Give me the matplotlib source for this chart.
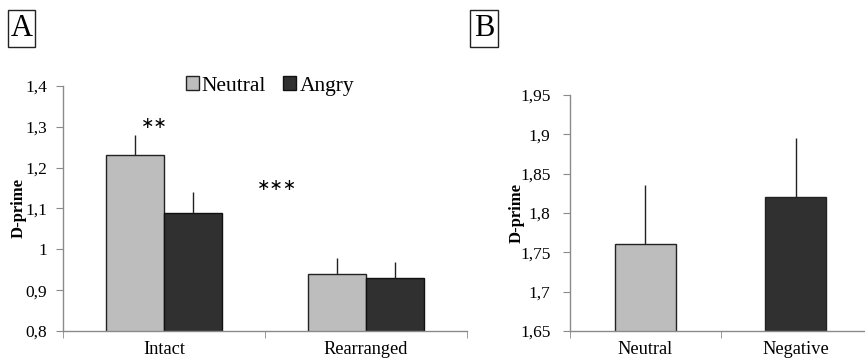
import matplotlib
matplotlib.use("Agg")
import matplotlib.pyplot as plt
import numpy as np
from matplotlib.patches import Patch, Rectangle

plt.rcParams['font.family'] = ['Liberation Serif', 'DejaVu Serif']

# Panel A data
a_categories = ["Intact", "Rearranged"]
a_neutral = [1.23, 0.94]
a_neutral_err = [0.05, 0.04]
a_angry = [1.09, 0.93]
a_angry_err = [0.05, 0.04]
a_yticks = [0.8, 0.9, 1.0, 1.1, 1.2, 1.3, 1.4]
a_yticklabels = ["0,8", "0,9", "1", "1,1", "1,2", "1,3", "1,4"]

# Panel B data
b_categories = ["Neutral", "Negative"]
b_values = [1.76, 1.82]
b_err = [0.075, 0.075]
b_yticks = [1.65, 1.70, 1.75, 1.80, 1.85, 1.90, 1.95]
b_yticklabels = ["1,65", "1,7", "1,75", "1,8", "1,85", "1,9", "1,95"]

light = "#bdbdbd"
dark = "#303030"
spine_c = "#8a8a8a"

W, H = 865, 362
fig = plt.figure(figsize=(W / 100, H / 100), dpi=100)

def style(ax, ypad):
    for s in ["top", "right"]:
        ax.spines[s].set_visible(False)
    for s in ["left", "bottom"]:
        ax.spines[s].set_color(spine_c)
        ax.spines[s].set_linewidth(1.0)
    ax.tick_params(axis="y", direction="out", length=5, color=spine_c, labelsize=12.5, pad=ypad)
    ax.tick_params(axis="x", which="major", length=0, labelsize=13.2, pad=7)
    ax.tick_params(axis="x", which="minor", direction="out", length=5, color=spine_c)

# Panel A
axA = fig.add_axes([63 / W, 1 - 331 / H, (467 - 63) / W, (331 - 86) / H])
x = np.arange(len(a_categories))
bw = 0.287
axA.bar(x - bw / 2, a_neutral, bw, color=light, edgecolor="#222222", linewidth=1.0,
        yerr=[np.zeros(2), a_neutral_err], error_kw=dict(ecolor="#222222", elinewidth=1.0, capsize=0))
axA.bar(x + bw / 2, a_angry, bw, color=dark, edgecolor="#111111", linewidth=1.0,
        yerr=[np.zeros(2), a_angry_err], error_kw=dict(ecolor="#222222", elinewidth=1.0, capsize=0))
axA.set_xlim(-0.5, 1.5)
axA.set_ylim(0.8, 1.4)
axA.set_yticks(a_yticks)
axA.set_yticklabels(a_yticklabels)
axA.set_xticks(x)
axA.set_xticklabels(a_categories)
axA.set_xticks([-0.5, 0.5, 1.5], minor=True)
axA.set_ylabel("D-prime", fontsize=12, fontweight="bold")
axA.yaxis.set_label_coords((27 - 63) / 404, 0.5)
style(axA, 6.5)
axA.text(-0.05, 1.307, "∗∗", ha="center", va="center", fontsize=11.5, family=["DejaVu Sans"])
axA.text(0.56, 1.157, "∗∗∗", ha="center", va="center", fontsize=11.5, family=["DejaVu Sans"])
leg = axA.legend(handles=[Patch(facecolor=light, edgecolor="#222222", label="Neutral"),
                          Patch(facecolor=dark, edgecolor="#111111", label="Angry")],
                 loc="center", bbox_to_anchor=(0.512, 1.0), ncol=2, frameon=False,
                 fontsize=15.5, handlelength=0.6, handleheight=0.6, handletextpad=0.15,
                 columnspacing=0.8, borderaxespad=0)

# Panel B
axB = fig.add_axes([570 / W, 1 - 331 / H, (871 - 570) / W, (331 - 95) / H])
xb = np.arange(len(b_categories))
bwb = 0.405
axB.bar(xb, b_values, bwb, color=[light, dark], edgecolor="#222222", linewidth=1.0,
        yerr=[np.zeros(2), b_err], error_kw=dict(ecolor="#222222", elinewidth=1.0, capsize=0))
axB.set_xlim(-0.5, 1.5)
axB.set_ylim(1.65, 1.95)
axB.set_yticks(b_yticks)
axB.set_yticklabels(b_yticklabels)
axB.set_xticks(xb)
axB.set_xticklabels(b_categories)
axB.set_xticks([-0.5, 0.5, 1.5], minor=True)
axB.set_ylabel("D-prime", fontsize=12, fontweight="bold")
axB.yaxis.set_label_coords((525 - 570) / 301, 0.5)
style(axB, 9)

# Panel labels
for lab, x0, x1 in [("A", 8, 35), ("B", 470, 498)]:
    y0, y1 = 10, 47
    fig.add_artist(Rectangle((x0 / W, 1 - y1 / H), (x1 - x0) / W, (y1 - y0) / H,
                             transform=fig.transFigure, facecolor="white",
                             edgecolor="#222222", linewidth=1.0))
    fig.text((x0 + x1) / 2 / W, 1 - 29 / H, lab, ha="center", va="center", fontsize=22)

fig.savefig("out.png", dpi=100)
